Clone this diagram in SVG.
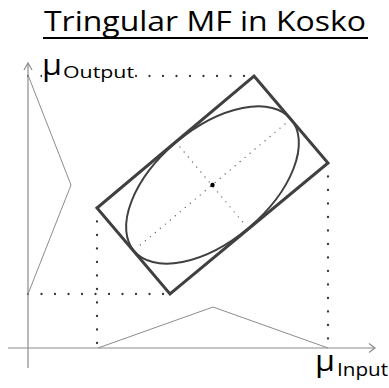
<svg xmlns="http://www.w3.org/2000/svg" width="389" height="388" viewBox="0 0 389 388">
<style>
.axis{stroke:#8c8c8c;stroke-width:1.2;fill:none}
.mf{stroke:#8c8c8c;stroke-width:1;fill:none}
.guide{stroke:#333;stroke-width:2.3;stroke-dasharray:0 13.5;stroke-linecap:round;fill:none}
.inner{stroke:#606060;stroke-width:1.4;stroke-dasharray:0 6.5;stroke-linecap:round;fill:none}
.shape{stroke:#404040;fill:none}
.lbl{font-family:"Open Sans",Lato,sans-serif;fill:#000}
</style>
<rect width="389" height="388" fill="#fff"/>
<g id="title">
<text class="lbl" x="44" y="31" font-size="28" textLength="322" lengthAdjust="spacingAndGlyphs">Tringular MF in Kosko</text>
<line x1="43" y1="38" x2="368" y2="38" stroke="#000" stroke-width="2"/>
</g>
<g id="connectors">
<line class="guide" x1="28" y1="76" x2="254" y2="76"/>
<line class="guide" x1="28" y1="294" x2="170" y2="294"/>
<line class="guide" x1="97" y1="208" x2="97" y2="348"/>
<line class="guide" x1="328" y1="163" x2="328" y2="348"/>
<line class="inner" x1="285" y1="124" x2="138" y2="247"/>
<line class="inner" x1="180" y1="147" x2="246" y2="226"/>
</g>
<g id="axes">
<line class="axis" x1="28" y1="63" x2="28" y2="368"/>
<polyline class="axis" points="24,70 28,63 32,70"/>
<line class="axis" x1="8" y1="348" x2="375" y2="348"/>
<polyline class="axis" points="369,343.5 375,348 369,352.5"/>
</g>
<g id="output-mf">
<polyline class="mf" points="28,75 71,185 28,294"/>
</g>
<g id="input-mf">
<polyline class="mf" points="98,348 213,307 328,348"/>
</g>
<g id="rectangle">
<polygon class="shape" stroke-width="3" points="254,76 328,163 170,294 97,208"/>
</g>
<g id="ellipse">
<ellipse class="shape" stroke-width="2" cx="212.5" cy="185" rx="102.5" ry="56" transform="rotate(-40 212.5 185)"/>
<circle cx="212.5" cy="185" r="2.2" fill="#000"/>
</g>
<g id="label-output">
<rect x="42" y="60" width="93" height="24" fill="#fff"/>
<text class="lbl" x="42" y="75" font-size="30" textLength="20" lengthAdjust="spacingAndGlyphs">μ</text>
<text class="lbl" x="63" y="78" font-size="16" textLength="71" lengthAdjust="spacingAndGlyphs">Output</text>
</g>
<g id="label-input">
<text class="lbl" x="315" y="371" font-size="30" textLength="20" lengthAdjust="spacingAndGlyphs">μ</text>
<text class="lbl" x="337" y="376" font-size="19" textLength="51" lengthAdjust="spacingAndGlyphs">Input</text>
</g>
</svg>
